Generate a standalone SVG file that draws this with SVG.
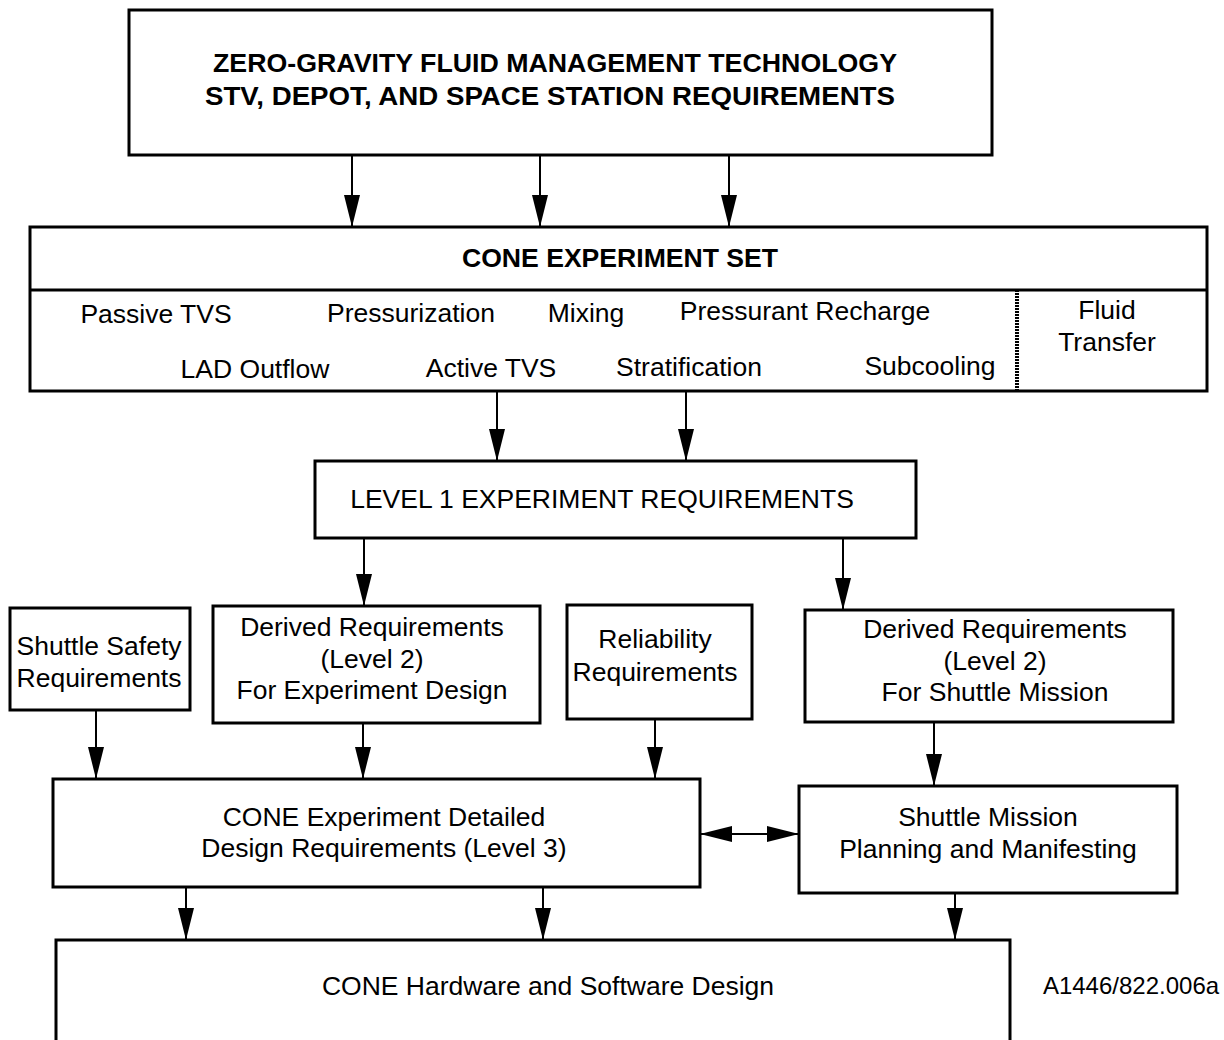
<svg xmlns="http://www.w3.org/2000/svg" width="1224" height="1040" viewBox="0 0 1224 1040">
<style>
.box{fill:#fff;stroke:#000;stroke-width:3}
.t{font-family:"Liberation Sans",Arial,sans-serif;font-size:26.5px;fill:#000;text-anchor:middle}
.b{font-weight:bold;font-size:26px}
.c{stroke:#000;stroke-width:2;fill:none;marker-end:url(#ah)}
</style>
<defs>
<marker id="ah" viewBox="0 0 32 16" refX="32" refY="8" markerWidth="32" markerHeight="16" markerUnits="userSpaceOnUse" orient="auto-start-reverse">
<path d="M0,0 L32,8 L0,16 Z" fill="#000"/>
</marker>
</defs>
<rect width="1224" height="1040" fill="#fff"/>
<g id="connectors">
<line class="c" x1="352" y1="155" x2="352" y2="227"/>
<line class="c" x1="540" y1="155" x2="540" y2="227"/>
<line class="c" x1="729" y1="155" x2="729" y2="227"/>
<line class="c" x1="497" y1="391" x2="497" y2="461"/>
<line class="c" x1="686" y1="391" x2="686" y2="461"/>
<line class="c" x1="364" y1="538" x2="364" y2="606"/>
<line class="c" x1="843" y1="538" x2="843" y2="610"/>
<line class="c" x1="96" y1="710" x2="96" y2="779"/>
<line class="c" x1="363" y1="723" x2="363" y2="779"/>
<line class="c" x1="655" y1="719" x2="655" y2="779"/>
<line class="c" x1="934" y1="722" x2="934" y2="786"/>
<line class="c" x1="700" y1="834" x2="799" y2="834" marker-start="url(#ah)"/>
<line class="c" x1="186" y1="887" x2="186" y2="940"/>
<line class="c" x1="543" y1="887" x2="543" y2="940"/>
<line class="c" x1="955" y1="893" x2="955" y2="940"/>
</g>
<g id="top">
<rect class="box" x="129" y="10" width="863" height="145"/>
<text class="t b" x="555" y="72" textLength="684" lengthAdjust="spacingAndGlyphs">ZERO-GRAVITY FLUID MANAGEMENT TECHNOLOGY</text>
<text class="t b" x="550" y="105" textLength="690" lengthAdjust="spacingAndGlyphs">STV, DEPOT, AND SPACE STATION REQUIREMENTS</text>
</g>
<g id="cone-set">
<rect class="box" x="30" y="227" width="1177" height="164"/>
<line x1="30" y1="290" x2="1207" y2="290" stroke="#000" stroke-width="3"/>
<line x1="1017" y1="290" x2="1017" y2="391" stroke="#000" stroke-width="4" stroke-dasharray="2,1"/>
<text class="t b" x="620" y="267" textLength="316" lengthAdjust="spacingAndGlyphs">CONE EXPERIMENT SET</text>
<text class="t" x="156" y="323">Passive TVS</text>
<text class="t" x="411" y="322">Pressurization</text>
<text class="t" x="586" y="322">Mixing</text>
<text class="t" x="805" y="320">Pressurant Recharge</text>
<text class="t" x="255" y="378">LAD Outflow</text>
<text class="t" x="491" y="377">Active TVS</text>
<text class="t" x="689" y="376">Stratification</text>
<text class="t" x="930" y="375">Subcooling</text>
<text class="t" x="1107" y="319">Fluid</text>
<text class="t" x="1107" y="351">Transfer</text>
</g>
<g id="level1">
<rect class="box" x="315" y="461" width="601" height="77"/>
<text class="t" x="602" y="508">LEVEL 1 EXPERIMENT REQUIREMENTS</text>
</g>
<g id="shuttle-safety">
<rect class="box" x="10" y="608" width="180" height="102"/>
<text class="t" x="99" y="655">Shuttle Safety</text>
<text class="t" x="99" y="687">Requirements</text>
</g>
<g id="derived-exp">
<rect class="box" x="213" y="606" width="327" height="117"/>
<text class="t" x="372" y="636">Derived Requirements</text>
<text class="t" x="372" y="668">(Level 2)</text>
<text class="t" x="372" y="699">For Experiment Design</text>
</g>
<g id="reliability">
<rect class="box" x="567" y="605" width="185" height="114"/>
<text class="t" x="655" y="648">Reliability</text>
<text class="t" x="655" y="681">Requirements</text>
</g>
<g id="derived-shuttle">
<rect class="box" x="805" y="610" width="368" height="112"/>
<text class="t" x="995" y="638">Derived Requirements</text>
<text class="t" x="995" y="670">(Level 2)</text>
<text class="t" x="995" y="701">For Shuttle Mission</text>
</g>
<g id="cone-detailed">
<rect class="box" x="53" y="779" width="647" height="108"/>
<text class="t" x="384" y="826">CONE Experiment Detailed</text>
<text class="t" x="384" y="857">Design Requirements (Level 3)</text>
</g>
<g id="shuttle-planning">
<rect class="box" x="799" y="786" width="378" height="107"/>
<text class="t" x="988" y="826">Shuttle Mission</text>
<text class="t" x="988" y="858">Planning and Manifesting</text>
</g>
<g id="hw-sw">
<rect class="box" x="56" y="940" width="954" height="110"/>
<text class="t" x="548" y="995">CONE Hardware and Software Design</text>
</g>
<text class="t" x="1131" y="994" style="font-size:24px">A1446/822.006a</text>
</svg>
